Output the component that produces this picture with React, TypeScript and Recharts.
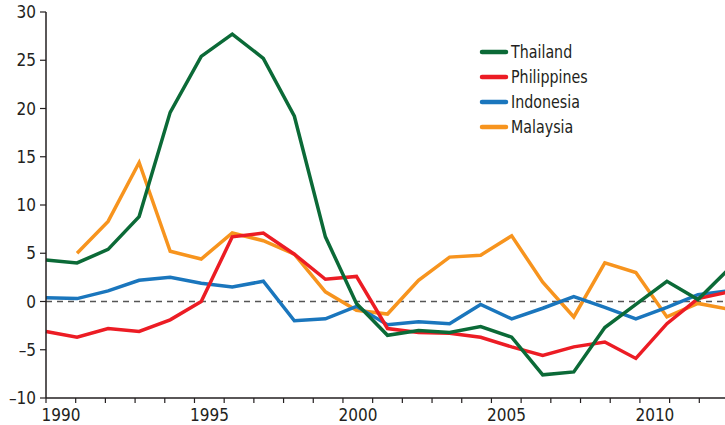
import { Line, LineChart, ReferenceLine, XAxis, YAxis } from 'recharts';

const YEARS = [
  1990, 1991, 1992, 1993, 1994, 1995, 1996, 1997, 1998, 1999, 2000, 2001,
  2002, 2003, 2004, 2005, 2006, 2007, 2008, 2009, 2010, 2011, 2012,
];

const THAILAND = [
  4.3, 4.0, 5.4, 8.8, 19.6, 25.4, 27.7, 25.2, 19.2, 6.7, -0.2, -3.5,
  -3.0, -3.2, -2.6, -3.7, -7.6, -7.3, -2.7, -0.3, 2.1, 0.2, 3.4,
];
const PHILIPPINES = [
  -3.1, -3.7, -2.8, -3.1, -1.9, 0.0, 6.7, 7.1, 4.9, 2.3, 2.6, -2.8,
  -3.2, -3.3, -3.7, -4.7, -5.6, -4.7, -4.2, -5.9, -2.3, 0.3, 1.0,
];
const INDONESIA = [
  0.4, 0.3, 1.1, 2.2, 2.5, 1.9, 1.5, 2.1, -2.0, -1.8, -0.5, -2.4,
  -2.1, -2.3, -0.3, -1.8, -0.7, 0.5, -0.6, -1.8, -0.6, 0.7, 1.1,
];
const MALAYSIA = [
  null, 5.0, 8.3, 14.4, 5.2, 4.4, 7.1, 6.3, 4.9, 1.0, -0.9, -1.3,
  2.2, 4.6, 4.8, 6.8, 2.0, -1.6, 4.0, 3.0, -1.6, -0.2, -0.8,
];

const Y_TICKS = [-10, -5, 0, 5, 10, 15, 20, 25, 30];
// year bands on the visible axis: one tick at each year boundary
const BAND_TICKS = [...YEARS, 2013];
const LABEL_YEARS = [1990, 1995, 2000, 2005, 2010];

const SERIES = [
  { key: 'thailand', name: 'Thailand', color: '#0b6a37' },
  { key: 'philippines', name: 'Philippines', color: '#ec1c24' },
  { key: 'indonesia', name: 'Indonesia', color: '#1a76bd' },
  { key: 'malaysia', name: 'Malaysia', color: '#f7941e' },
];

const FONT = "'Liberation Sans Narrow', 'DejaVu Sans Condensed', Roboto, sans-serif";
const INK = '#231f20';

const data = YEARS.map((year, i) => ({
  year,
  thailand: THAILAND[i],
  philippines: PHILIPPINES[i],
  indonesia: INDONESIA[i],
  malaysia: MALAYSIA[i],
}));

function YearTick({ x, y, payload }: any) {
  if (!LABEL_YEARS.includes(payload.value)) return null;
  return (
    <text x={x + 15} y={y} dy="0.71em" textAnchor="middle" fill={INK} fontSize={17} fontFamily={FONT}>
      {payload.value}
    </text>
  );
}

function LegendBox() {
  return (
    <div style={{ position: 'absolute', left: 478, top: 39, fontFamily: FONT, fontSize: 18, color: INK }}>
      {SERIES.map((s) => (
        <div key={s.key} style={{ display: 'flex', alignItems: 'center', height: 25 }}>
          <svg width={31} height={10}>
            <line x1={4} y1={5} x2={28} y2={5} stroke={s.color} strokeWidth={4.5} strokeLinecap="round" />
          </svg>
          <span style={{ marginLeft: 2, display: 'inline-block', transform: 'scaleX(0.88)', transformOrigin: 'left center' }}>
            {s.name}
          </span>
        </div>
      ))}
    </div>
  );
}

export default function App() {
  const drawOrder = [...SERIES].reverse();
  return (
    <div style={{ position: 'fixed', left: 0, top: 0, width: 725, height: 425, overflow: 'hidden', background: '#fff' }}>
      <LineChart width={729} height={425} data={data} margin={{ top: 12, right: 0, bottom: 0, left: 0 }}>
        <XAxis xAxisId="data" dataKey="year" type="number" domain={[1990, 2012]} hide />
        <XAxis
          xAxisId="band"
          dataKey="year"
          type="number"
          domain={[1990, 2013]}
          ticks={BAND_TICKS}
          interval={0}
          height={27}
          tick={<YearTick />}
          tickSize={5}
          tickMargin={6}
          axisLine={{ stroke: INK, strokeWidth: 1.5 }}
          tickLine={{ stroke: INK, strokeWidth: 1.2 }}
          allowDataOverflow
        />
        <YAxis
          domain={[-10, 30]}
          ticks={Y_TICKS}
          interval={0}
          width={46}
          tickSize={6}
          tickMargin={4}
          tickFormatter={(v: number) => (v < 0 ? `\u2013${Math.abs(v)}` : String(v))}
          tick={{ fill: INK, fontSize: 17, fontFamily: FONT }}
          axisLine={{ stroke: INK, strokeWidth: 1.5 }}
          tickLine={{ stroke: INK, strokeWidth: 1.2 }}
        />
        <ReferenceLine xAxisId="data" y={0} stroke="#555" strokeWidth={1.5} strokeDasharray="6 5" />
        {drawOrder.map((s) => (
          <Line
            key={s.key}
            xAxisId="data"
            type="linear"
            dataKey={s.key}
            name={s.name}
            stroke={s.color}
            strokeWidth={3.5}
            dot={false}
            activeDot={false}
            isAnimationActive={false}
          />
        ))}
      </LineChart>
      <LegendBox />
    </div>
  );
}
